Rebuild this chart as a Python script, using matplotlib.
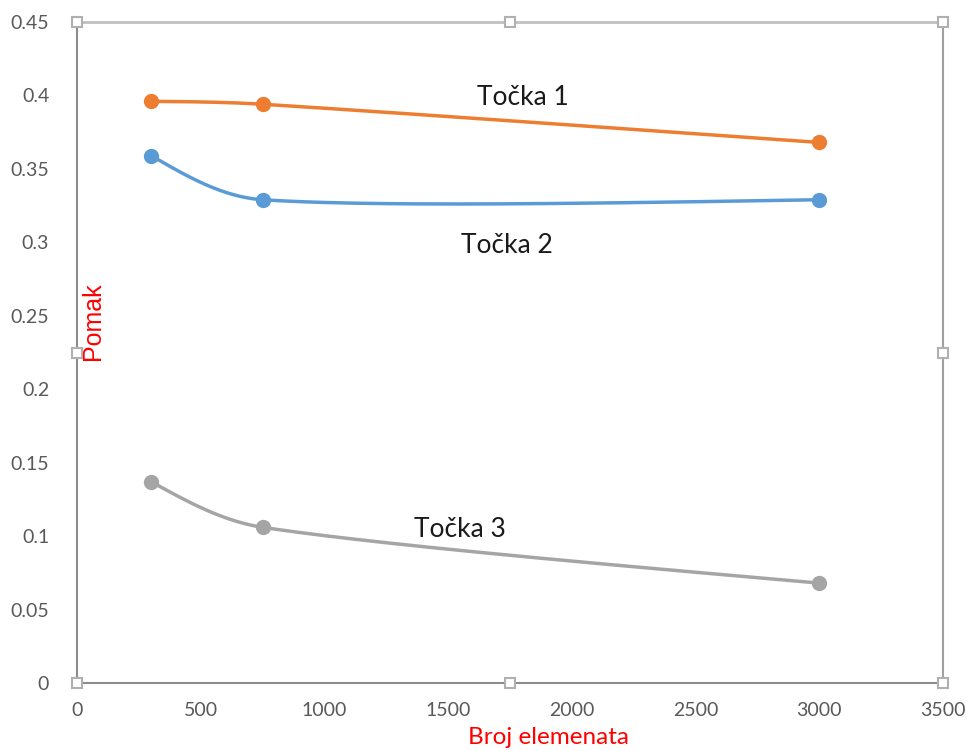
import numpy as np
import matplotlib
matplotlib.use("Agg")
import matplotlib.pyplot as plt

plt.rcParams['font.family'] = ['Lato', 'DejaVu Sans']

x_vals = [300, 750, 3000]
tocka1 = [0.396, 0.394, 0.368]
tocka2 = [0.359, 0.329, 0.329]
tocka3 = [0.137, 0.106, 0.068]
series_names = ["Točka 1", "Točka 2", "Točka 3"]
series_colors = ["#ED7D31", "#5B9BD5", "#A5A5A5"]
x_ticks = [0, 500, 1000, 1500, 2000, 2500, 3000, 3500]
y_ticks = [0, 0.05, 0.1, 0.15, 0.2, 0.25, 0.3, 0.35, 0.4, 0.45]
label_pos = [(1802, 0.3935), (1738, 0.2927), (1548, 0.0994)]

XMAX, YMAX = 3500, 0.45
W_PX, H_PX = 866.0, 661.0


def smooth(xs, ys, n=80):
    # Catmull-Rom like smoothing in screen-proportional space,
    # tangent length limited by the segment length
    px = np.array(xs) / XMAX * W_PX
    py = np.array(ys) / YMAX * H_PX
    P = np.column_stack([px, py])
    m = len(P)
    T = [None] * m
    for i in range(1, m - 1):
        T[i] = (P[i + 1] - P[i - 1]) / 6.0
    out = []
    for i in range(m - 1):
        p1, p2 = P[i], P[i + 1]
        L = np.linalg.norm(p2 - p1)
        c1 = c2 = None
        if T[i] is not None:
            v = T[i]
            mag = min(np.linalg.norm(v), L / 3)
            c1 = p1 + v / np.linalg.norm(v) * mag
        if T[i + 1] is not None:
            v = T[i + 1]
            mag = min(np.linalg.norm(v), L / 3)
            c2 = p2 - v / np.linalg.norm(v) * mag
        if c1 is None and c2 is None:
            c1 = p1 + (p2 - p1) / 3
            c2 = p2 - (p2 - p1) / 3
        elif c1 is None:
            c1 = p1 + (c2 - p1) * 0.5
        elif c2 is None:
            c2 = p2 + (c1 - p2) * 0.5
        t = np.linspace(0, 1, n)[:, None]
        seg = ((1 - t) ** 3) * p1 + 3 * ((1 - t) ** 2) * t * c1 + 3 * (1 - t) * t ** 2 * c2 + t ** 3 * p2
        out.append(seg if i == 0 else seg[1:])
    s = np.vstack(out)
    return s[:, 0] / W_PX * XMAX, s[:, 1] / H_PX * YMAX


fig = plt.figure(figsize=(9.68, 7.51), dpi=100)
ax = fig.add_axes([77 / 968, 1 - 683 / 751, 866 / 968, 661 / 751])

for ys, c in zip([tocka1, tocka2, tocka3], series_colors):
    sx, sy = smooth(x_vals, ys)
    ax.plot(sx, sy, color=c, lw=2.5, solid_capstyle='round', zorder=3)
    ax.plot(x_vals, ys, 'o', color=c, ms=10, zorder=4)

for name, (lx, ly) in zip(series_names, label_pos):
    ax.text(lx, ly, name, ha='center', va='baseline', fontsize=19, color='#1a1a1a')

ax.set_xlim(0, XMAX)
ax.set_ylim(0, YMAX)
ax.set_xticks(x_ticks)
ax.set_xticklabels([str(v) for v in x_ticks])
ax.set_yticks(y_ticks)
ax.set_yticklabels([f"{v:g}" for v in y_ticks])
ax.tick_params(axis='both', length=0, labelsize=14, labelcolor='#595959')
ax.tick_params(axis='y', pad=20)
ax.tick_params(axis='x', pad=14)

ax.spines['top'].set_color('#c0c0c0')
ax.spines['top'].set_linewidth(2)
ax.spines['right'].set_color('#a0a0a0')
ax.spines['right'].set_linewidth(1.5)
ax.spines['left'].set_color('#8c8c8c')
ax.spines['left'].set_linewidth(1.5)
ax.spines['bottom'].set_color('#8c8c8c')
ax.spines['bottom'].set_linewidth(1.5)

# selection handles
hx = [0, 0.5, 1, 0, 1, 0, 0.5, 1]
hy = [1, 1, 1, 0.5, 0.5, 0, 0, 0]
ax.plot(hx, hy, 's', transform=ax.transAxes, clip_on=False, ms=7,
        mfc='white', mec='#b0b0b0', mew=1.5, zorder=5)

fig.text(93 / 968, 1 - 321 / 751, "Pomak", rotation=90, color='red',
         fontsize=18, ha='center', va='center',
         family=['Liberation Sans', 'DejaVu Sans'])
fig.text(549 / 968, 1 - 738 / 751, "Broj elemenata", color='red',
         fontsize=17.5, ha='center', va='center')

fig.savefig("out.png", dpi=100)
